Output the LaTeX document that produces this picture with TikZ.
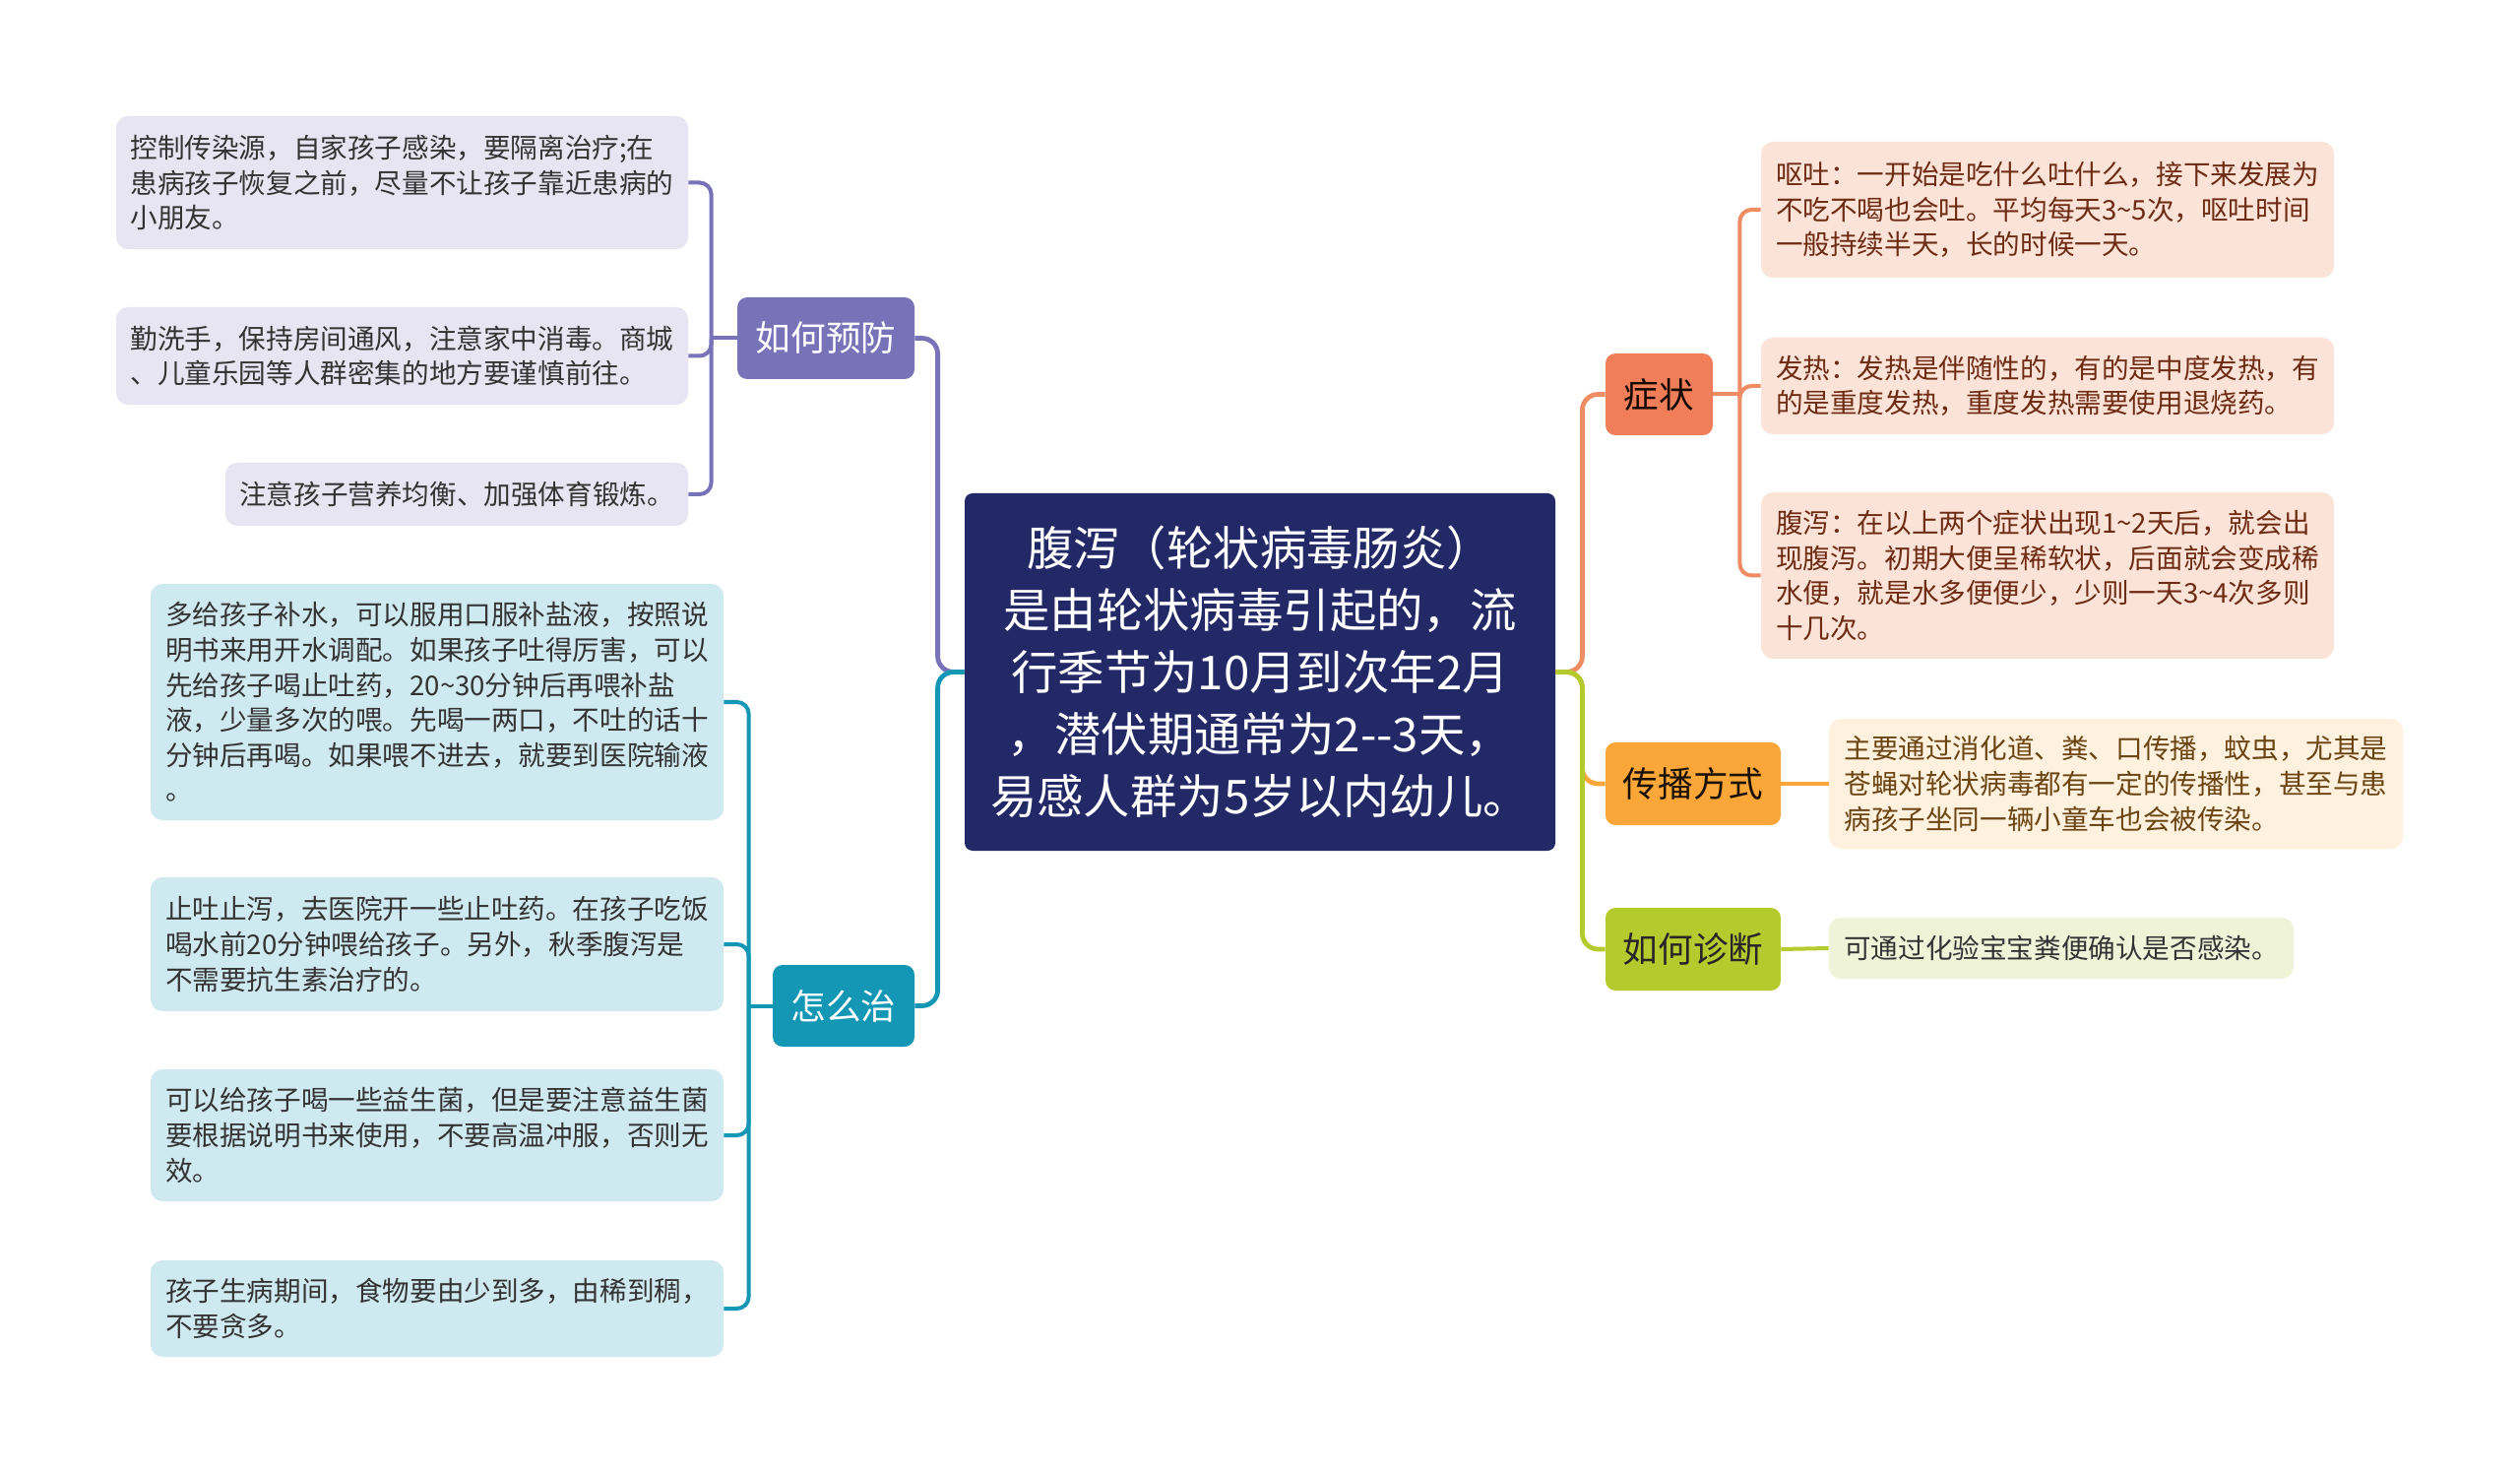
\documentclass[tikz,border=0pt]{standalone}
\usepackage{fontspec}
\setmainfont{Noto Sans CJK SC}
\usepackage{xcolor}
\usepackage{tikz}
\usetikzlibrary{calc, positioning}

\definecolor{rootnavy}{HTML}{232966}
\definecolor{prevpurple}{HTML}{7873B8}
\definecolor{prevleaf}{HTML}{E6E5F1}
\definecolor{treatteal}{HTML}{1497B4}
\definecolor{treatleaf}{HTML}{CFE9F1}
\definecolor{sympred}{HTML}{F07E58}
\definecolor{sympleaf}{HTML}{FCE3D8}
\definecolor{sympline}{HTML}{F08C64}
\definecolor{transorange}{HTML}{FAA638}
\definecolor{transleaf}{HTML}{FEF1DE}
\definecolor{diaggreen}{HTML}{B4CB2E}
\definecolor{diagleaf}{HTML}{EFF4D8}
\definecolor{darktext}{HTML}{333333}
\definecolor{sympbrown}{HTML}{6E2B14}
\definecolor{transbrown}{HTML}{6B4412}

\newcommand{\tld}{\textasciitilde}

\tikzset{
    box/.style={rounded corners=6pt, inner sep=0pt, align=left},
    leaf/.style={box, text=darktext, font=\fontsize{13.8pt}{17.8pt}\selectfont},
    branch/.style={box, rounded corners=5pt, align=center, font=\fontsize{17.8pt}{22pt}\selectfont},
    trunk/.style={line width=2.4pt, rounded corners=8pt},
    twig/.style={line width=2pt, rounded corners=6pt},
}

\begin{document}
\begin{tikzpicture}[x=0.5pt, y=-0.5pt]
    % 1. Khung nền
    \fill[white] (0,0) rectangle (2560,1497);
    \useasboundingbox (0,0) rectangle (2560,1497);

    % 2. Nút gốc
    \node[box, align=center, fill=rootnavy, text=white, rounded corners=4pt,
        minimum width=300pt, minimum height=181.5pt,
        font=\fontsize{23.7pt}{31.5pt}\selectfont] (root) at (1280,682.5)
        {腹泻（轮状病毒肠炎）\\是由轮状病毒引起的，流\\行季节为10月到次年2月\\，潜伏期通常为2-\kern0pt-3天，\\易感人群为5岁以内幼儿。};

    % 3. Các nhánh chính
    \node[branch, fill=prevpurple, text=white, minimum width=90pt, minimum height=41.5pt] (prev) at (839,343.5) {如何预防};
    \node[branch, fill=treatteal, text=white, minimum width=72pt, minimum height=41.5pt] (treat) at (857,1021.5) {怎么治};
    \node[branch, fill=sympred, text=black!80!sympbrown, minimum width=54.5pt, minimum height=41.5pt] (symp) at (1685.5,400.5) {症状};
    \node[branch, fill=transorange, text=black!75!transbrown, minimum width=89pt, minimum height=42pt] (trans) at (1720,796) {传播方式};
    \node[branch, fill=diaggreen, text=black!85, minimum width=89pt, minimum height=42pt] (diag) at (1720,964) {如何诊断};

    % 4. Các lá bên trái
    \node[leaf, fill=prevleaf, minimum width=290.5pt, minimum height=67.5pt] (p1) at (408.5,185.5)
        {控制传染源，自家孩子感染，要隔离治疗;在\\患病孩子恢复之前，尽量不让孩子靠近患病的\\小朋友。};
    \node[leaf, fill=prevleaf, minimum width=290.5pt, minimum height=49.5pt] (p2) at (408.5,361.5)
        {勤洗手，保持房间通风，注意家中消毒。商城\\、儿童乐园等人群密集的地方要谨慎前往。};
    \node[leaf, fill=prevleaf, minimum width=235pt, minimum height=32pt] (p3) at (464,502)
        {注意孩子营养均衡、加强体育锻炼。};

    \node[leaf, fill=treatleaf, minimum width=291pt, minimum height=120pt] (t1) at (444,713)
        {多给孩子补水，可以服用口服补盐液，按照说\\明书来用开水调配。如果孩子吐得厉害，可以\\先给孩子喝止吐药，20\tld30分钟后再喂补盐\\液，少量多次的喂。先喝一两口，不吐的话十\\分钟后再喝。如果喂不进去，就要到医院输液\\。};
    \node[leaf, fill=treatleaf, minimum width=291pt, minimum height=68pt] (t2) at (444,959)
        {止吐止泻，去医院开一些止吐药。在孩子吃饭\\喝水前20分钟喂给孩子。另外，秋季腹泻是\\不需要抗生素治疗的。};
    \node[leaf, fill=treatleaf, minimum width=291pt, minimum height=67pt] (t3) at (444,1153)
        {可以给孩子喝一些益生菌，但是要注意益生菌\\要根据说明书来使用，不要高温冲服，否则无\\效。};
    \node[leaf, fill=treatleaf, minimum width=291pt, minimum height=49pt] (t4) at (444,1329)
        {孩子生病期间，食物要由少到多，由稀到稠，\\不要贪多。};

    % 5. Các lá bên phải
    \node[leaf, fill=sympleaf, text=sympbrown, minimum width=291pt, minimum height=69pt] (s1) at (2080,213)
        {呕吐：一开始是吃什么吐什么，接下来发展为\\不吃不喝也会吐。平均每天3\tld5次，呕吐时间\\一般持续半天，长的时候一天。};
    \node[leaf, fill=sympleaf, text=sympbrown, minimum width=291pt, minimum height=49pt] (s2) at (2080,392)
        {发热：发热是伴随性的，有的是中度发热，有\\的是重度发热，重度发热需要使用退烧药。};
    \node[leaf, fill=sympleaf, text=sympbrown, minimum width=291pt, minimum height=84.5pt] (s3) at (2080,584.5)
        {腹泻：在以上两个症状出现1\tld2天后，就会出\\现腹泻。初期大便呈稀软状，后面就会变成稀\\水便，就是水多便便少，少则一天3\tld4次多则\\十几次。};
    \node[leaf, fill=transleaf, text=transbrown, minimum width=291.5pt, minimum height=66pt] (tr1) at (2149.5,796)
        {主要通过消化道、粪、口传播，蚊虫，尤其是\\苍蝇对轮状病毒都有一定的传播性，甚至与患\\病孩子坐同一辆小童车也会被传染。};
    \node[leaf, fill=diagleaf, minimum width=236pt, minimum height=31pt] (d1) at (2094,963)
        {可通过化验宝宝粪便确认是否感染。};

    % 6. Đường nối
    \draw[trunk, prevpurple] (root.west) -- ++(-27,0) |- (prev.east);
    \draw[trunk, treatteal] (root.west) -- ++(-27,0) |- (treat.east);
    \draw[trunk, sympline] (root.east) -- ++(27,0) |- (symp.west);
    \draw[trunk, transorange] (root.east) -- ++(27,0) |- (trans.west);
    \draw[trunk, diaggreen] (root.east) -- ++(27,0) |- (diag.west);

    \draw[twig, prevpurple] (prev.west) -- ++(-26,0) coordinate (prevbus);
    \foreach \n in {p1,p2,p3}
        \draw[twig, prevpurple] (prevbus) |- (\n.east);
    \draw[twig, treatteal] (treat.west) -- ++(-24,0) coordinate (treatbus);
    \foreach \n in {t1,t2,t3,t4}
        \draw[twig, treatteal] (treatbus) |- (\n.east);
    \draw[twig, sympline] (symp.east) -- ++(27,0) coordinate (sympbus);
    \foreach \n in {s1,s2,s3}
        \draw[twig, sympline] (sympbus) |- (\n.west);
    \draw[twig, transorange] (trans.east) -- (tr1.west);
    \draw[twig, diaggreen] (diag.east) -- (d1.west);
\end{tikzpicture}
\end{document}
